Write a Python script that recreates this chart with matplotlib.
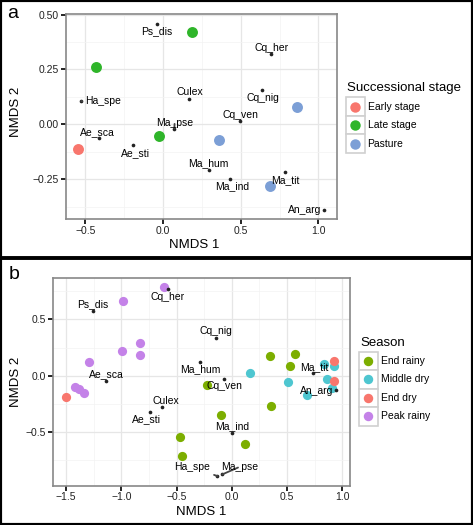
import numpy as np
import matplotlib.pyplot as plt
from matplotlib.patches import Rectangle
from matplotlib.lines import Line2D

plt.rcParams['font.family'] = ['Liberation Sans', 'DejaVu Sans']

W, H = 473, 525

# ---- panel a: species scores
sp_a = ['Ps_dis', 'Ha_spe', 'Ae_sca', 'Ae_sti', 'Culex', 'Ma_pse', 'Ma_hum',
        'Ma_ind', 'Cq_her', 'Cq_nig', 'Cq_ven', 'Ma_tit', 'An_arg']
sp_a_x = [-0.038, -0.526, -0.412, -0.192, 0.169, 0.073, 0.293,
          0.432, 0.697, 0.637, 0.498, 0.782, 1.037]
sp_a_y = [0.459, 0.106, -0.062, -0.096, 0.115, -0.019, -0.206,
          -0.247, 0.321, 0.157, 0.015, -0.219, -0.389]

# ---- panel a: sites
stages = ['Early stage', 'Late stage', 'Pasture']
stage_colors = ['#F8766D', '#2FB52A', '#7C9FD6']
site_a_stage = ['Early stage', 'Late stage', 'Late stage', 'Late stage',
                'Pasture', 'Pasture', 'Pasture']
site_a_x = [-0.545, 0.184, -0.433, -0.029, 0.359, 0.862, 0.690]
site_a_y = [-0.114, 0.419, 0.262, -0.054, -0.071, 0.077, -0.279]

# ---- panel b: species scores
sp_b = ['Ps_dis', 'Cq_her', 'Cq_nig', 'Ma_hum', 'Cq_ven', 'Ae_sca', 'Culex',
        'Ae_sti', 'Ma_ind', 'Ha_spe', 'Ma_pse', 'Ma_tit', 'An_arg']
sp_b_x = [-1.255, -0.582, -0.143, -0.285, -0.073, -1.140, -0.631,
          -0.745, 0.005, -0.131, -0.085, 0.736, 0.948]
sp_b_y = [0.574, 0.769, 0.337, 0.124, -0.027, -0.044, -0.275,
          -0.325, -0.508, -0.890, -0.875, 0.021, -0.127]

# ---- panel b: sites
seasons = ['End rainy', 'Middle dry', 'End dry', 'Peak rainy']
season_colors = ['#7CAE00', '#4EC6D0', '#F8766D', '#C482E8']
site_b_season = (['End rainy'] * 9 + ['Middle dry'] * 7 + ['End dry'] * 3
                 + ['Peak rainy'] * 9)
site_b_x = [-0.227, -0.097, -0.467, -0.455, 0.124, 0.348, 0.569, 0.527, 0.355,
            0.164, 0.512, 0.685, 0.860, 0.930, 0.839, 0.909,
            -1.500, 0.927, 0.924,
            -0.615, -0.982, -0.995, -0.831, -0.831, -1.295, -1.418, -1.379, -1.340]
site_b_y = [-0.083, -0.349, -0.541, -0.710, -0.603, 0.177, 0.190, 0.083, -0.266,
            0.024, -0.053, -0.171, -0.029, 0.083, 0.104, -0.112,
            -0.186, 0.133, -0.047,
            0.787, 0.663, 0.217, 0.287, 0.184, 0.124, -0.098, -0.121, -0.151]

# label placement (offset in points, horizontal alignment)
lab_a = {'Ps_dis': (0, -5.5, 'center'), 'Ha_spe': (2.7, 0, 'left'),
         'Ae_sca': (-1.1, 4.3, 'center'), 'Ae_sti': (1.4, -5.5, 'center'),
         'Culex': (0.2, 4.8, 'center'), 'Ma_pse': (0.2, 4.3, 'center'),
         'Ma_hum': (-0.5, 4.5, 'center'), 'Ma_ind': (1.3, -5.3, 'center'),
         'Cq_her': (0.4, 4.3, 'center'), 'Cq_nig': (0.4, -5.5, 'center'),
         'Cq_ven': (0, 4.0, 'center'), 'Ma_tit': (0.3, -5.3, 'center'),
         'An_arg': (-2.2, 0, 'right')}
lab_b = {'Ps_dis': (0, 4.8, 'center'), 'Cq_her': (0, -5.5, 'center'),
         'Cq_nig': (0, 4.8, 'center'), 'Ma_hum': (0.3, -5.3, 'center'),
         'Cq_ven': (0.4, -5.3, 'center'), 'Ae_sca': (0.6, 4.6, 'center'),
         'Culex': (2.9, 4.3, 'center'), 'Ae_sti': (-2.4, -5.0, 'center'),
         'Ma_ind': (0.1, 5.0, 'center'), 'Ha_spe': (-5.3, 6.3, 'right'),
         'Ma_pse': (-1.2, 5.3, 'left'), 'Ma_tit': (0.8, 4.8, 'center'),
         'An_arg': (-1.9, -0.7, 'right')}
leader = ['Ha_spe', 'Ma_pse']


def px(x, y):
    return x / W, 1 - y / H


def fmt(v, nd):
    return f'{v:.{nd}f}'.replace('-', '\u2212')


def setup(ax, xs, ys, xmaj, ymaj, xnd, ynd):
    xs = np.asarray(xs); ys = np.asarray(ys)
    dx = (xs.max() - xs.min()) * 0.05
    dy = (ys.max() - ys.min()) * 0.05
    ax.set_xlim(xs.min() - dx, xs.max() + dx)
    ax.set_ylim(ys.min() - dy, ys.max() + dy)
    ax.set_xticks(xmaj)
    ax.set_xticklabels([fmt(v, xnd) for v in xmaj])
    ax.set_yticks(ymaj)
    ax.set_yticklabels([fmt(v, ynd) for v in ymaj])
    sx = xmaj[1] - xmaj[0]
    sy = ymaj[1] - ymaj[0]
    ax.set_xticks(np.arange(xmaj[0] - sx / 2, xmaj[-1] + sx, sx), minor=True)
    ax.set_yticks(np.arange(ymaj[0] - sy / 2, ymaj[-1] + sy, sy), minor=True)
    ax.set_xlim(xs.min() - dx, xs.max() + dx)
    ax.set_ylim(ys.min() - dy, ys.max() + dy)
    ax.grid(True, which='major', color='#E6E6E6', lw=0.9, zorder=0)
    ax.grid(True, which='minor', color='#F3F3F3', lw=0.5, zorder=0)
    ax.set_axisbelow(True)
    ax.tick_params(which='major', length=3.5, width=1.2, pad=1.5,
                   labelsize=7.5, color='black', labelcolor='#222222')
    ax.tick_params(which='minor', length=0)
    for s in ax.spines.values():
        s.set_color('#888888')
        s.set_linewidth(1.2)


def species(ax, names, xs, ys, labs):
    ax.scatter(xs, ys, s=7, color='#222222', zorder=4, lw=0)
    for n, x, y in zip(names, xs, ys):
        ox, oy, ha = labs[n]
        if n in leader:
            ax.annotate(n, (x, y), xytext=(ox, oy), textcoords='offset points',
                        ha=ha, va='center', fontsize=7.5, zorder=5,
                        arrowprops=dict(arrowstyle='-', color='#444444', lw=1.3,
                                        shrinkA=1, shrinkB=0))
        else:
            ax.annotate(n, (x, y), xytext=(ox, oy), textcoords='offset points',
                        ha=ha, va='center', fontsize=7.5, zorder=5)


def legend(fig, title, names, colors, tx, ty, bx, by, key, ms):
    fig.text(*px(tx, ty), title, fontsize=9.5, va='center', ha='left')
    for i, (n, c) in enumerate(zip(names, colors)):
        y0 = by + i * key
        fig.add_artist(Rectangle(px(bx, y0 + key), key / W, key / H,
                                 transform=fig.transFigure, fc='white',
                                 ec='#D0D0D0', lw=1.2))
        fig.add_artist(Line2D([px(bx + key / 2, 0)[0]], [px(0, y0 + key / 2)[1]],
                              transform=fig.transFigure, marker='o', ms=ms,
                              color=c, mec='none', ls='none'))
        fig.text(*px(bx + key + 3, y0 + key / 2), n, fontsize=7.5,
                 va='center', ha='left')


fig = plt.figure(figsize=(W / 100, H / 100), dpi=100)

# ---------------- panel a
ax1 = fig.add_axes([66 / W, 1 - 219 / H, 270.5 / W, 204.7 / H])
setup(ax1, list(sp_a_x) + site_a_x, list(sp_a_y) + site_a_y,
      [-0.5, 0.0, 0.5, 1.0], [-0.25, 0.0, 0.25, 0.5], 1, 2)
for st, c in zip(stages, stage_colors):
    idx = [i for i, s in enumerate(site_a_stage) if s == st]
    ax1.scatter([site_a_x[i] for i in idx], [site_a_y[i] for i in idx],
                s=62, color=c, lw=0, zorder=3)
species(ax1, sp_a, sp_a_x, sp_a_y, lab_a)
ax1.set_xlabel('NMDS 1', fontsize=9.5)
ax1.set_ylabel('NMDS 2', fontsize=9.5)
ax1.xaxis.label.set_va('center')
ax1.yaxis.label.set_va('center')
ax1.xaxis.set_label_coords(0.473, -0.127)
ax1.yaxis.set_label_coords(-0.185, 0.524)

# ---------------- panel b
ax2 = fig.add_axes([52.6 / W, 1 - 485.5 / H, 297.4 / W, 208 / H])
setup(ax2, list(sp_b_x) + site_b_x, list(sp_b_y) + site_b_y,
      [-1.5, -1.0, -0.5, 0.0, 0.5, 1.0], [-0.5, 0.0, 0.5], 1, 1)
for se, c in zip(seasons, season_colors):
    idx = [i for i, s in enumerate(site_b_season) if s == se]
    ax2.scatter([site_b_x[i] for i in idx], [site_b_y[i] for i in idx],
                s=44, color=c, lw=0, zorder=3)
species(ax2, sp_b, sp_b_x, sp_b_y, lab_b)
ax2.set_xlabel('NMDS 1', fontsize=9.5)
ax2.set_ylabel('NMDS 2', fontsize=9.5)
ax2.xaxis.label.set_va('center')
ax2.yaxis.label.set_va('center')
ax2.xaxis.set_label_coords(0.5, -0.126)
ax2.yaxis.set_label_coords(-0.123, 0.5)

# legends
legend(fig, 'Successional stage', stages, stage_colors,
       347.3, 88.3, 346, 97.3, 18.5, 7.5)
legend(fig, 'Season', seasons, season_colors,
       360, 343.3, 359.2, 351.7, 18.5, 6.8)

# panel letters
fig.text(*px(13, 14), 'a', fontsize=14, ha='center', va='center')
fig.text(*px(14.3, 274.7), 'b', fontsize=14, ha='center', va='center')

# frame and divider
fig.add_artist(Rectangle((0, 0), 1, 1, transform=fig.transFigure,
                         fill=False, ec='black', lw=3))
fig.add_artist(Line2D([0, 1], [1 - 258 / H] * 2, transform=fig.transFigure,
                      color='black', lw=2.8))

fig.savefig('out.png', dpi=100)
